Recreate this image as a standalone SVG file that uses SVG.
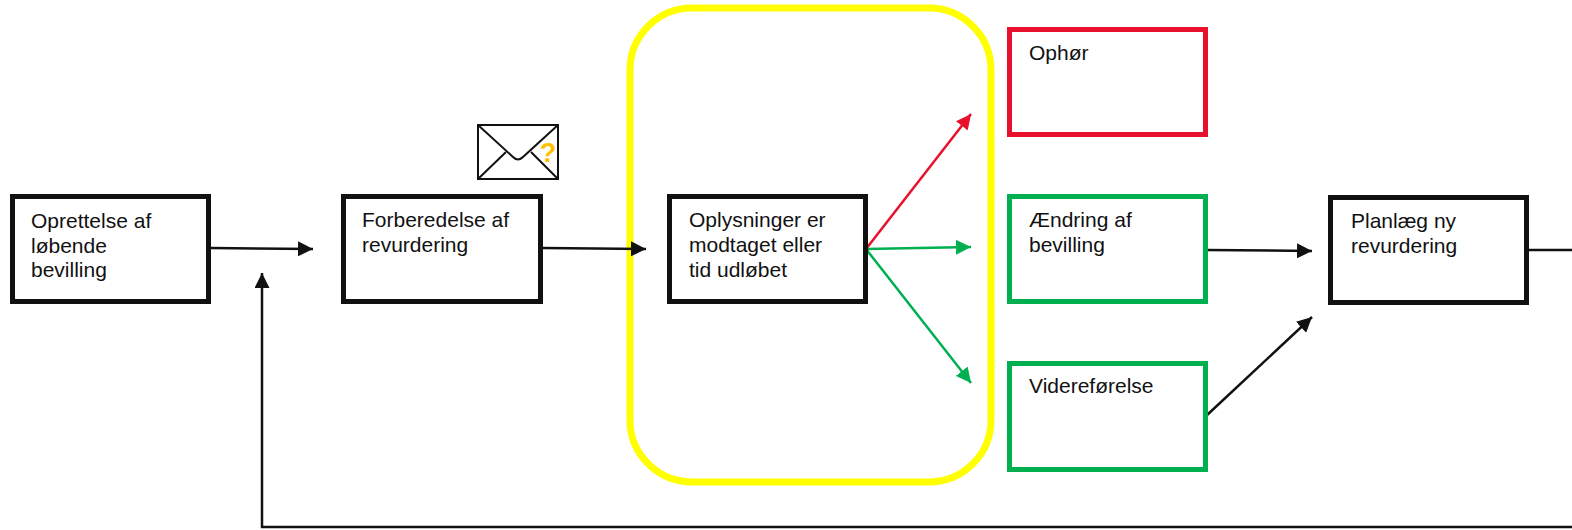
<svg xmlns="http://www.w3.org/2000/svg" width="1572" height="530" viewBox="0 0 1572 530">
<style>
.box{fill:#fff;stroke:#111;stroke-width:5}
.red{fill:#fff;stroke:#E8112D;stroke-width:5}
.green{fill:#fff;stroke:#00B050;stroke-width:5}
.lbl{font-family:"Liberation Sans",Arial,sans-serif;font-size:21px;fill:#111}
.c{fill:none;stroke:#111;stroke-width:2.5}
.cr{fill:none;stroke:#E8112D;stroke-width:2.5}
.cg{fill:none;stroke:#00B050;stroke-width:2.5}
</style>
<defs>
<marker id="ak" viewBox="0 0 10 10" refX="10" refY="5" markerWidth="6" markerHeight="6" markerUnits="strokeWidth" orient="auto"><path d="M0,0 L10,5 L0,10 z" fill="#111"/></marker>
<marker id="ar" viewBox="0 0 10 10" refX="10" refY="5" markerWidth="6" markerHeight="6" markerUnits="strokeWidth" orient="auto"><path d="M0,0 L10,5 L0,10 z" fill="#E8112D"/></marker>
<marker id="ag" viewBox="0 0 10 10" refX="10" refY="5" markerWidth="6" markerHeight="6" markerUnits="strokeWidth" orient="auto"><path d="M0,0 L10,5 L0,10 z" fill="#00B050"/></marker>
</defs>
<rect id="yellow-frame" x="630" y="8" width="361" height="474" rx="62" ry="62" fill="none" stroke="#FFFF00" stroke-width="7"/>
<g id="connectors">
<line class="c" x1="211" y1="248" x2="313" y2="249" marker-end="url(#ak)"/>
<line class="c" x1="543" y1="248" x2="646" y2="249" marker-end="url(#ak)"/>
<line class="cr" x1="866" y1="249" x2="971" y2="114" marker-end="url(#ar)"/>
<line class="cg" x1="866" y1="249" x2="971" y2="247" marker-end="url(#ag)"/>
<line class="cg" x1="866" y1="249" x2="971" y2="383" marker-end="url(#ag)"/>
<line class="c" x1="1206" y1="250" x2="1312" y2="251" marker-end="url(#ak)"/>
<line class="c" x1="1206" y1="416" x2="1312" y2="317" marker-end="url(#ak)"/>
<line class="c" x1="1529" y1="250" x2="1572" y2="250"/>
<polyline class="c" points="1572,527 262,527 262,273" marker-end="url(#ak)"/>
</g>
<g id="n1"><rect class="box" x="12.5" y="196.5" width="196" height="105"/>
<text class="lbl" x="31" y="228">Oprettelse af</text><text class="lbl" x="31" y="252.5">løbende</text><text class="lbl" x="31" y="277">bevilling</text></g>
<g id="n2"><rect class="box" x="343.5" y="196.5" width="197" height="105"/>
<text class="lbl" x="362" y="227">Forberedelse af</text><text class="lbl" x="362" y="252">revurdering</text></g>
<g id="envelope">
<rect x="478" y="125" width="80" height="54" fill="#fff" stroke="#111" stroke-width="2"/>
<path d="M478,125 L513,157 Q518,162 523,157 L558,125" fill="none" stroke="#111" stroke-width="2"/>
<path d="M478,179 L506,152 M558,179 L531,152" fill="none" stroke="#111" stroke-width="2"/>
<text x="548" y="162" font-family="Liberation Sans,Arial,sans-serif" font-size="27" font-weight="bold" fill="#FFC000" text-anchor="middle">?</text>
</g>
<g id="n3"><rect class="box" x="669.5" y="196.5" width="196" height="105"/>
<text class="lbl" x="689" y="227">Oplysninger er</text><text class="lbl" x="689" y="252">modtaget eller</text><text class="lbl" x="689" y="277">tid udløbet</text></g>
<g id="n4"><rect class="red" x="1009.5" y="29.5" width="196" height="105"/>
<text class="lbl" x="1029" y="60">Ophør</text></g>
<g id="n5"><rect class="green" x="1009.5" y="196.5" width="196" height="105"/>
<text class="lbl" x="1029" y="227">Ændring af</text><text class="lbl" x="1029" y="252">bevilling</text></g>
<g id="n6"><rect class="green" x="1009.5" y="363.5" width="196" height="106"/>
<text class="lbl" x="1029" y="393">Videreførelse</text></g>
<g id="n7"><rect class="box" x="1330.5" y="197.5" width="196" height="105"/>
<text class="lbl" x="1351" y="228">Planlæg ny</text><text class="lbl" x="1351" y="253">revurdering</text></g>
</svg>
